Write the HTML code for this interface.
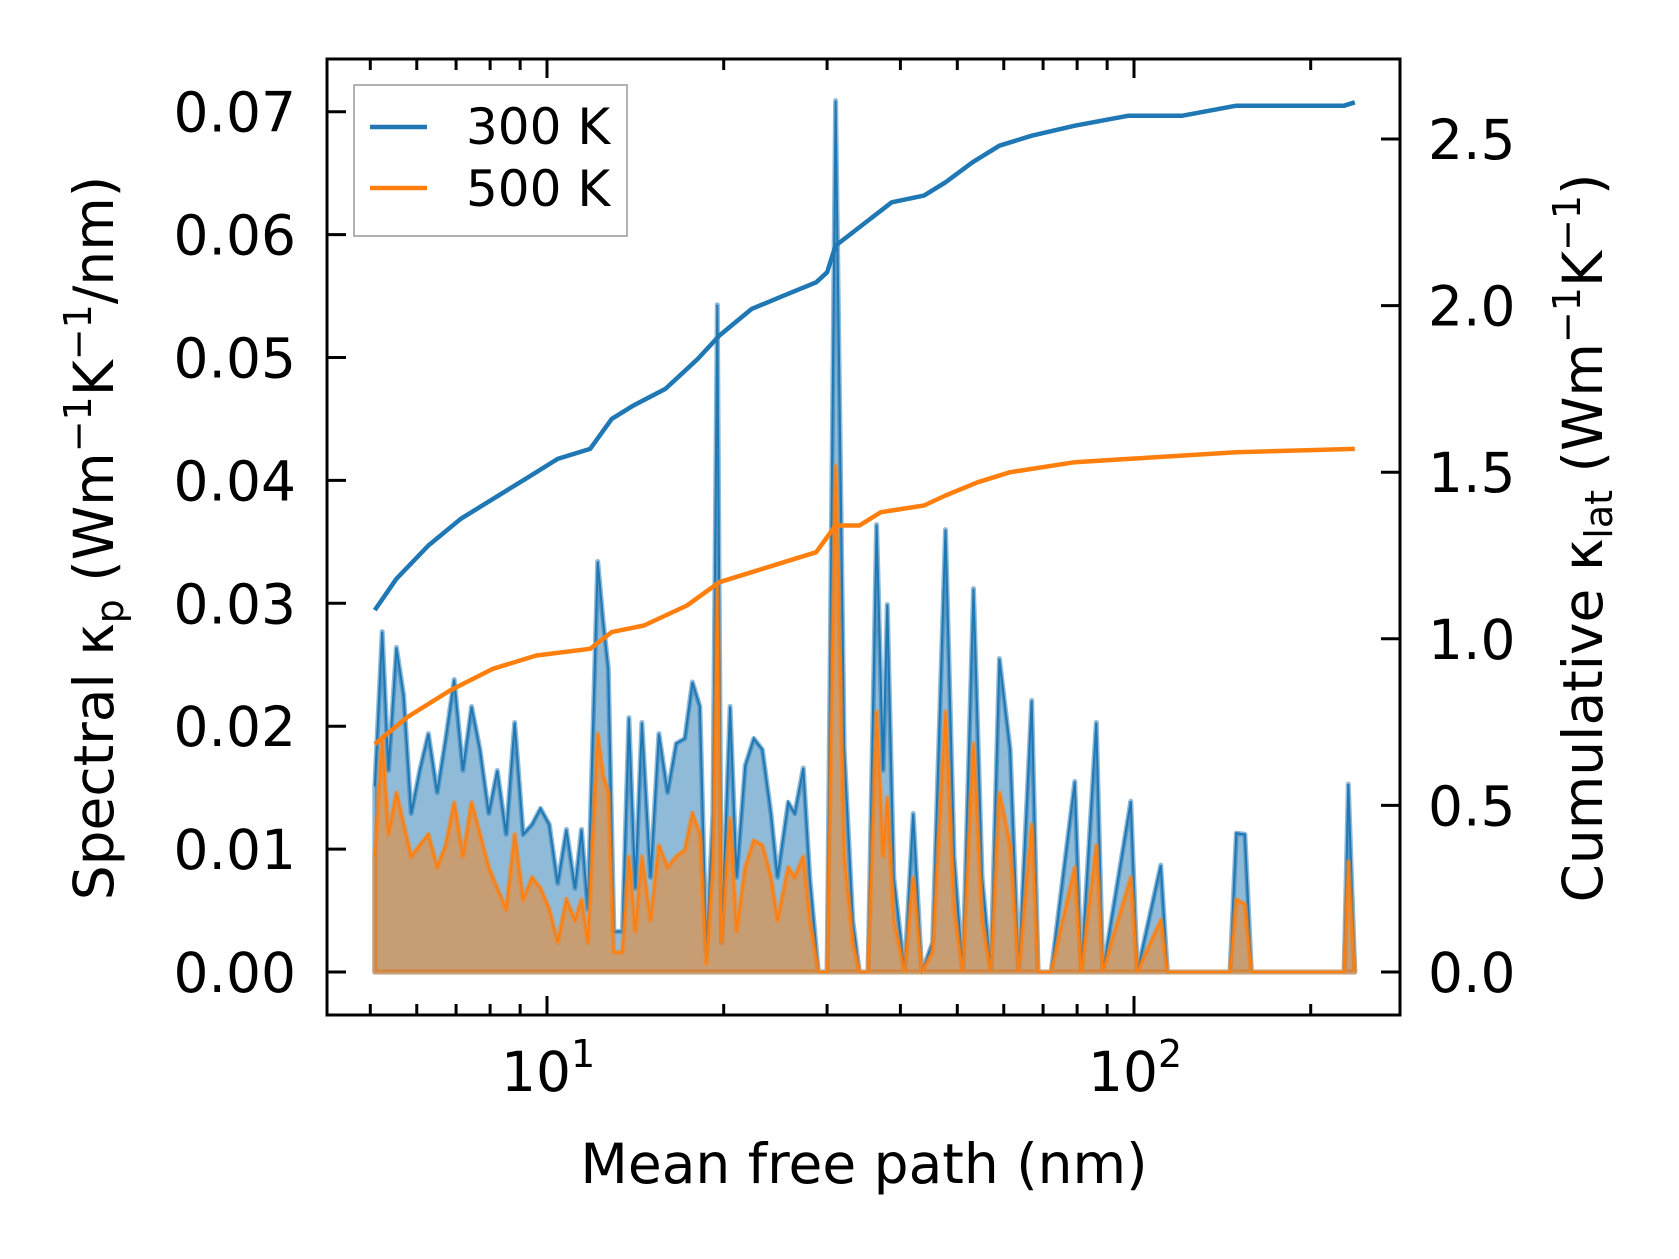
<!DOCTYPE html>
<html><head><meta charset="utf-8"><style>
html,body{margin:0;padding:0;background:#fff}
svg text{font-family:"DejaVu Sans","Liberation Sans",sans-serif;fill:#000}
</style></head><body>
<svg id="chart" width="1679" height="1254" viewBox="0 0 1679 1254" xmlns="http://www.w3.org/2000/svg">
<g id="plot"></g>
<g id="axes"></g>
<g id="legend">
<rect x="354" y="85" width="273" height="151" fill="#fff" fill-opacity="0.85" stroke="#999" stroke-width="1.5"/>
<line x1="370" y1="127" x2="427" y2="127" stroke="#1f77b4" stroke-width="4.5"/>
<text x="466" y="144" font-size="50">300 K</text>
<line x1="370" y1="188" x2="427" y2="188" stroke="#ff7f0e" stroke-width="4.5"/>
<text x="466" y="206" font-size="50">500 K</text>
</g>
</svg>
<script>
const mfp=[5.09,5.24,5.37,5.54,5.70,5.87,6.07,6.28,6.50,6.72,
6.95,7.19,7.44,7.69,7.96,8.23,8.52,8.81,9.11,9.43,
9.75,10.09,10.43,10.79,11.16,11.45,11.74,12.20,12.46,12.72,
13.00,13.44,13.79,14.14,14.51,15.01,15.51,16.05,16.60,17.17,
17.69,18.22,18.69,19.17,19.50,19.83,20.51,21.04,21.76,22.51,
23.28,24.08,24.70,25.76,26.42,27.33,28.03,29.00,30.00,31.02,
32.09,33.19,34.05,35.23,36.43,37.37,38.00,38.98,40.66,42.06,
43.50,45.38,47.74,49.38,51.08,53.29,55.12,57.02,58.98,61.52,
63.63,66.94,68.66,72.23,79.27,81.31,86.27,88.49,98.74,101.3,
111.1,114.0,145.7,149.4,154.5,158.5,228.0,231.8,237.8];
const spec300=[.0151,.0277,.0164,.0264,.0225,.0129,.0164,.0194,.0146,.0190,
.0238,.0164,.0216,.0181,.0129,.0164,.0112,.0203,.0112,.0120,
.0133,.0120,.0072,.0116,.0068,.0116,.0051,.0334,.0286,.0247,
.0033,.0033,.0207,.0068,.0203,.0077,.0194,.0146,.0186,.0190,
.0236,.0216,.0016,.0129,.0543,.0024,.0216,.0077,.0168,.0190,
.0181,.0129,.0077,.0138,.0129,.0166,.0077,0,0,.0709,
.0181,.0042,0,0,.0364,.0164,.0299,.0077,0,.0129,
0,.0024,.0360,.0094,0,.0312,.0077,0,.0255,.0181,
0,.0221,0,0,.0155,0,.0203,0,.0139,0,
.0087,0,0,.0113,.0112,0,0,.0153,0];
const spec500=[.0094,.0190,.0112,.0146,.0120,.0094,.0103,.0112,.0085,.0103,
.0138,.0094,.0138,.0112,.0085,.0068,.0051,.0112,.0059,.0077,
.0068,.0051,.0024,.0059,.0042,.0059,.0024,.0194,.0160,.0146,
.0016,.0016,.0094,.0033,.0094,.0042,.0103,.0085,.0094,.0099,
.0129,.0112,.0007,.0085,.0316,.0024,.0125,.0033,.0085,.0107,
.0103,.0077,.0042,.0085,.0077,.0094,.0042,0,0,.0412,
.0094,.0024,0,0,.0212,.0094,.0142,.0042,0,.0077,
0,.0016,.0212,.0051,0,.0186,.0042,0,.0146,.0103,
0,.0120,0,0,.0085,0,.0103,0,.0077,0,
.0042,0,0,.0059,.0055,0,0,.0090,0];
const cumX300=[5.09,5.54,6.28,7.13,8.09,9.19,10.43,11.84,12.89,14.03,15.91,18.07,19.66,22.32,25.33,28.75,30.00,31.02,32.64,35.52,38.65,43.87,47.74,53.07,58.98,66.94,79.27,97.9,120.9,149.4,228.0,237.8];
const cum300=[1.086,1.18,1.28,1.36,1.42,1.48,1.54,1.57,1.66,1.70,1.75,1.84,1.91,1.99,2.03,2.07,2.10,2.18,2.21,2.26,2.31,2.33,2.37,2.43,2.48,2.51,2.54,2.57,2.57,2.60,2.60,2.61];
const cumX500=[5.09,5.78,6.84,8.09,9.59,11.84,12.89,14.63,17.32,19.66,22.32,25.33,28.75,31.02,34.05,37.05,43.87,47.74,54.2,61.52,79.27,97.9,149.4,237.8];
const cum500=[0.684,0.765,0.845,0.91,0.95,0.97,1.02,1.04,1.10,1.17,1.20,1.23,1.26,1.34,1.34,1.38,1.40,1.43,1.47,1.50,1.53,1.54,1.56,1.57];
const leftTicks=["0.00","0.01","0.02","0.03","0.04","0.05","0.06","0.07"];
const rightTicks=["0.0","0.5","1.0","1.5","2.0","2.5"];
const xMajor=[10,100];

const L=327,R=1400,T=59,B=1015;
const sx=v=>547+(Math.log10(v)-1)*587;
const syL=v=>972-v*12290;
const syR=v=>972-v*333.2;
const NS="http://www.w3.org/2000/svg";
function mk(tag,attrs,parent){const e=document.createElementNS(NS,tag);for(const k in attrs)e.setAttribute(k,attrs[k]);parent.appendChild(e);return e;}
const plot=document.getElementById('plot'),axes=document.getElementById('axes');

function fillPts(ys){let p=mfp.map((x,i)=>sx(x).toFixed(1)+','+syL(ys[i]).toFixed(1));p.push(sx(mfp[mfp.length-1]).toFixed(1)+','+syL(0));p.push(sx(mfp[0]).toFixed(1)+','+syL(0));return p.join(' ');}
function linePts(xs,ys,f){return xs.map((x,i)=>sx(x).toFixed(1)+','+f(ys[i]).toFixed(1)).join(' ');}

let e;
e=mk('polygon',{points:fillPts(spec300),fill:'#1f77b4','fill-opacity':0.5,stroke:'#1f77b4','stroke-opacity':0.5,'stroke-width':5,'stroke-linejoin':'round'},plot);


e=mk('polyline',{points:linePts(mfp,spec300,syL),fill:'none',stroke:'#1f77b4','stroke-width':2},plot);


e=mk('polygon',{points:fillPts(spec500),fill:'#ff7f0e','fill-opacity':0.5,stroke:'#ff7f0e','stroke-opacity':0.5,'stroke-width':5,'stroke-linejoin':'round'},plot);


e=mk('polyline',{points:linePts(mfp,spec500,syL),fill:'none',stroke:'#ff7f0e','stroke-width':2},plot);


e=mk('polyline',{points:linePts(cumX300,cum300,syR),fill:'none',stroke:'#1f77b4','stroke-width':4.5,'stroke-linejoin':'round'},plot);


e=mk('polyline',{points:linePts(cumX500,cum500,syR),fill:'none',stroke:'#ff7f0e','stroke-width':4.5,'stroke-linejoin':'round'},plot);



e=mk('rect',{x:L,y:T,width:R-L,height:B-T,fill:'none',stroke:'#000','stroke-width':3},axes);



leftTicks.forEach((t,i)=>{const v=parseFloat(t),y=syL(v);
 e=mk('line',{x1:L,x2:L+19,y1:y,y2:y,stroke:'#000','stroke-width':3},axes);
 
 
 e=mk('text',{x:296,y:y+20,'font-size':55,'text-anchor':'end'},axes);e.textContent=t;
 
 
});
rightTicks.forEach(t=>{const v=parseFloat(t),y=syR(v);
 e=mk('line',{x1:R-19,x2:R,y1:y,y2:y,stroke:'#000','stroke-width':3},axes);
 
 
 e=mk('text',{x:1428,y:y+20,'font-size':55},axes);e.textContent=t;
 
 
});
for(let d=1;d<=300;d*=10){for(let m=1;m<10;m++){const v=d*m,x=sx(v);if(x<L+2||x>R-2)continue;const len=m===1?19:11;
 e=mk('line',{x1:x,x2:x,y1:B,y2:B-len,stroke:'#000','stroke-width':3},axes);
 
 
 e=mk('line',{x1:x,x2:x,y1:T,y2:T+len,stroke:'#000','stroke-width':3},axes);
 
 
}}
xMajor.forEach(v=>{const x=sx(v);
 e=mk('text',{x:x-46,y:1091,'font-size':55},axes);
 
 
 e.innerHTML='10<tspan font-size="38" dy="-24">'+Math.round(Math.log10(v))+'</tspan>';
});
e=mk('text',{x:864,y:1183,'font-size':55,'text-anchor':'middle'},axes);e.textContent='Mean free path (nm)';


e=mk('text',{x:0,y:0,'font-size':55,'text-anchor':'middle',transform:'translate(113,538) rotate(-90)'},axes);


e.innerHTML='Spectral κ<tspan font-size="38" dy="10">p</tspan><tspan dy="-10"> (Wm</tspan><tspan font-size="38" dy="-22">−1</tspan><tspan dy="22">K</tspan><tspan font-size="38" dy="-22">−1</tspan><tspan dy="22">/nm)</tspan>';
e=mk('text',{x:0,y:0,'font-size':55,'text-anchor':'middle',transform:'translate(1602,538) rotate(-90)'},axes);


e.innerHTML='Cumulative κ<tspan font-size="38" dy="10">lat</tspan><tspan dy="-10"> (Wm</tspan><tspan font-size="38" dy="-22">−1</tspan><tspan dy="22">K</tspan><tspan font-size="38" dy="-22">−1</tspan><tspan dy="22">)</tspan>';
</script>
</body></html>
